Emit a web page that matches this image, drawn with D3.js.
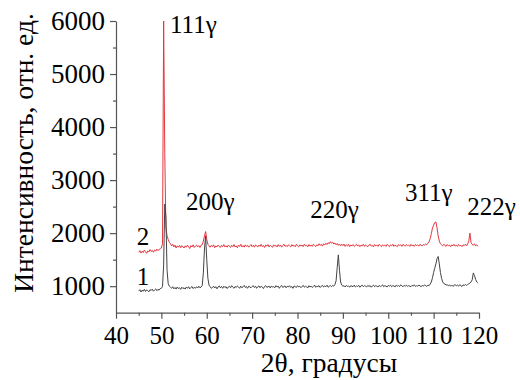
<!DOCTYPE html>
<html>
<head>
<meta charset="utf-8">
<script src="https://cdn.jsdelivr.net/npm/d3@7"></script>
<style>
  body { margin: 0; background: #fff; }
  svg text { font-family: "Liberation Serif", "Times New Roman", Times, serif; fill: #000; }
</style>
</head>
<body>
<div id="chart"></div>
<script>
// 2theta grid: 45 .. 119.75, step 0.25
var thetaStart = 45, thetaStep = 0.25;

// curve 1 (black), 20 values per row = 5 degrees
var curve1 = [
  910, 935, 890, 925, 905, 940, 900, 930, 915, 895, 935, 920, 945, 905, 930, 950, 915, 940, 925, 955,
  960, 990, 1400, 2550, 2300, 1300, 1050, 1000, 980, 960, 990, 950, 975, 945, 985, 955, 970, 940, 980, 955,
  970, 945, 985, 960, 990, 950, 975, 995, 955, 980, 960, 990, 965, 1000, 970, 985, 1010, 1250, 1700, 1950,
  1500, 1150, 1020, 990, 960, 975, 1000, 965, 990, 950, 985, 1005, 970, 995, 960, 1000, 975, 990, 955, 985,
  1000, 970, 1010, 980, 960, 995, 975, 1005, 985, 960, 1000, 970, 990, 1015, 975, 995, 960, 1000, 985, 970,
  995, 1010, 975, 1000, 960, 990, 1005, 970, 1000, 985, 955, 995, 1010, 975, 990, 1000, 965, 1005, 980, 995,
  970, 1010, 985, 1000, 960, 995, 1015, 975, 990, 1005, 970, 1000, 985, 1010, 975, 995, 960, 1005, 990, 975,
  1010, 985, 1000, 970, 995, 1015, 980, 1000, 990, 965, 1010, 985, 1000, 975, 995, 1020, 980, 1000, 990, 1010,
  975, 1000, 1015, 985, 1005, 990, 1020, 980, 1000, 1010, 990, 1015, 1000, 1030, 1100, 1350, 1590, 1300, 1080, 1020,
  1000, 1010, 985, 1015, 995, 1005, 980, 1010, 1000, 990, 1020, 985, 1005, 995, 1015, 980, 1005, 1020, 990, 1010,
  1000, 985, 1015, 995, 1010, 980, 1005, 1020, 990, 1010, 1000, 985, 1015, 995, 1005, 1025, 990, 1010, 1000, 985,
  1015, 1000, 1020, 990, 1010, 1005, 985, 1020, 1000, 1010, 995, 1025, 1005, 990, 1015, 1000, 1020, 995, 1010, 1000,
  990, 1015, 1005, 1025, 995, 1010, 1000, 1020, 1005, 990, 1015, 1000, 1025, 1010, 995, 1020, 1010, 1040, 1080, 1160,
  1260, 1340, 1420, 1520, 1560, 1420, 1260, 1150, 1080, 1050, 1040, 1020, 1030, 1005, 1025, 1000, 1020, 995, 1015, 1030,
  1005, 1020, 1000, 1030, 1010, 995, 1025, 1010, 1035, 1015, 1030, 1045, 1060, 1080, 1120, 1250, 1200, 1130, 1080, 1060
];

// curve 2 (red)
var curve2 = [
  1640, 1670, 1625, 1660, 1635, 1680, 1650, 1620, 1665, 1645, 1690, 1655, 1675, 1640, 1685, 1660, 1700, 1670, 1690, 1710,
  1720, 1800, 6000, 3500, 2100, 1950, 1880, 1830, 1800, 1760, 1790, 1740, 1775, 1720, 1760, 1735, 1770, 1725, 1765, 1740,
  1720, 1760, 1735, 1775, 1745, 1710, 1765, 1740, 1780, 1730, 1755, 1775, 1740, 1765, 1730, 1770, 1780, 1850, 1950, 2030,
  1880, 1790, 1760, 1735, 1770, 1745, 1780, 1725, 1760, 1740, 1775, 1750, 1730, 1770, 1745, 1785, 1740, 1760, 1735, 1775,
  1750, 1730, 1770, 1745, 1785, 1740, 1760, 1725, 1775, 1750, 1790, 1740, 1765, 1735, 1780, 1750, 1770, 1735, 1760, 1785,
  1745, 1770, 1735, 1780, 1755, 1740, 1775, 1750, 1790, 1745, 1765, 1730, 1775, 1755, 1785, 1740, 1770, 1750, 1735, 1780,
  1755, 1770, 1740, 1785, 1750, 1775, 1735, 1765, 1790, 1750, 1770, 1745, 1780, 1760, 1740, 1785, 1755, 1770, 1745, 1790,
  1760, 1740, 1780, 1755, 1775, 1745, 1790, 1760, 1770, 1740, 1785, 1755, 1775, 1750, 1790, 1765, 1745, 1780, 1760, 1800,
  1770, 1790, 1755, 1800, 1775, 1810, 1785, 1820, 1800, 1840, 1810, 1830, 1795, 1815, 1780, 1805, 1770, 1795, 1760, 1790,
  1765, 1795, 1750, 1780, 1760, 1790, 1745, 1775, 1760, 1785, 1750, 1770, 1790, 1755, 1780, 1745, 1775, 1760, 1790, 1750,
  1780, 1760, 1745, 1775, 1790, 1755, 1770, 1740, 1785, 1760, 1775, 1750, 1790, 1765, 1745, 1780, 1760, 1775, 1750, 1790,
  1765, 1745, 1780, 1760, 1790, 1750, 1775, 1760, 1745, 1785, 1765, 1780, 1750, 1790, 1770, 1755, 1785, 1765, 1775, 1750,
  1790, 1760, 1775, 1750, 1785, 1765, 1780, 1755, 1790, 1770, 1760, 1785, 1775, 1795, 1780, 1810, 1840, 1900, 1990, 2100,
  2150, 2200, 2210, 2100, 1950, 1850, 1800, 1780, 1760, 1790, 1770, 1750, 1785, 1760, 1775, 1745, 1780, 1760, 1790, 1755,
  1775, 1750, 1785, 1760, 1770, 1745, 1780, 1765, 1790, 1760, 1800, 1850, 2000, 1820, 1790, 1770, 1800, 1760, 1780, 1750
];

// peak labels (left edge of text, baseline) in data units
var peakNames = ["111γ", "200γ", "220γ", "311γ", "222γ"];
var peakTheta = [51.9, 55.4, 82.8, 103.7, 117.4];
var peakLevel = [5770, 2440, 2290, 2610, 2340];

var curveNames = ["1", "2"];
var curveTheta = [44.6, 44.6];
var curveLevel = [1020, 1775];

var xTicks = [40, 50, 60, 70, 80, 90, 100, 110, 120];
var xMinor = [45, 55, 65, 75, 85, 95, 105, 115];
var yTicks = [1000, 2000, 3000, 4000, 5000, 6000];
var yMinor = [1500, 2500, 3500, 4500, 5500];

var W = 520, H = 380;
var plotLeft = 116, plotRight = 479, plotTop = 21, plotBottom = 312.7;

var x = d3.scaleLinear().domain([40, 120]).range([plotLeft, plotRight]);
var y = d3.scaleLinear().domain([500, 6000]).range([plotBottom, plotTop]);

var svg = d3.select("#chart").append("svg")
    .attr("width", W)
    .attr("height", H);

function toPoints(vals) {
  return vals.map(function(v, i) { return [thetaStart + i * thetaStep, v]; });
}

var line = d3.line()
    .x(function(d) { return x(d[0]); })
    .y(function(d) { return y(d[1]); });

svg.append("path")
    .datum(toPoints(curve2))
    .attr("fill", "none")
    .attr("stroke", "#e5363f")
    .attr("stroke-width", 1)
    .attr("d", line);

svg.append("path")
    .datum(toPoints(curve1))
    .attr("fill", "none")
    .attr("stroke", "#444")
    .attr("stroke-width", 1)
    .attr("d", line);

// axes
var axisColor = "#555";

svg.append("g")
    .attr("transform", "translate(0," + plotBottom + ")")
    .call(d3.axisBottom(x).tickValues(xTicks).tickSize(6).tickPadding(8).tickSizeOuter(0));
svg.append("g")
    .attr("transform", "translate(0," + plotBottom + ")")
    .call(d3.axisBottom(x).tickValues(xMinor).tickSize(3).tickFormat("").tickSizeOuter(0))
    .select(".domain").remove();

var gy = svg.append("g")
    .attr("transform", "translate(" + plotLeft + ",0)")
    .call(d3.axisLeft(y).tickValues(yTicks).tickSize(6).tickPadding(5)
      .tickFormat(d3.format("d")).tickSizeOuter(0));
svg.append("g")
    .attr("transform", "translate(" + plotLeft + ",0)")
    .call(d3.axisLeft(y).tickValues(yMinor).tickSize(3).tickFormat("").tickSizeOuter(0))
    .select(".domain").remove();

svg.selectAll(".domain, .tick line").attr("stroke", axisColor).attr("stroke-width", 1.2);
svg.selectAll(".tick text")
    .attr("font-family", "'Liberation Serif', serif")
    .attr("font-size", 25)
    .attr("fill", "#000");
gy.selectAll(".tick text").attr("font-size", 27);

// peak labels
svg.selectAll(".peak")
    .data(peakNames)
    .enter().append("text")
    .attr("class", "peak")
    .attr("x", function(d, i) { return x(peakTheta[i]); })
    .attr("y", function(d, i) { return y(peakLevel[i]); })
    .style("font-size", "25px")
    .text(function(d) { return d; });

svg.selectAll(".cname")
    .data(curveNames)
    .enter().append("text")
    .attr("class", "cname")
    .attr("x", function(d, i) { return x(curveTheta[i]); })
    .attr("y", function(d, i) { return y(curveLevel[i]); })
    .style("font-size", "25px")
    .text(function(d) { return d; });

// axis titles
svg.append("text")
    .attr("x", 329)
    .attr("y", 372)
    .attr("text-anchor", "middle")
    .style("font-size", "27.5px")
    .text("2θ, градусы");

svg.append("text")
    .attr("transform", "translate(33,153) rotate(-90)")
    .attr("text-anchor", "middle")
    .style("font-size", "27.5px")
    .text("Интенсивность, отн. ед.");
</script>
</body>
</html>
